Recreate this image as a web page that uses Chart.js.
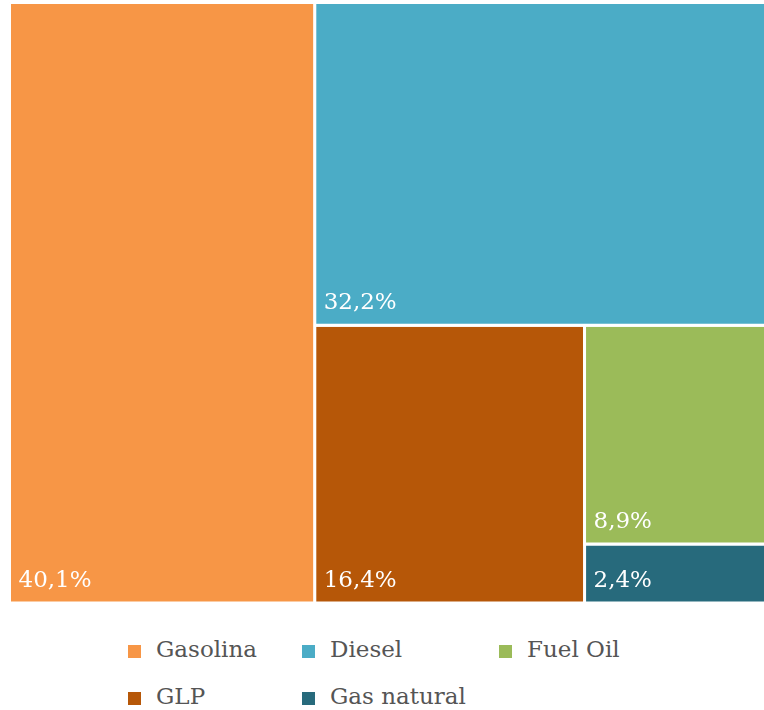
<!DOCTYPE html>
<html>
<head>
<meta charset="utf-8">
<script src="https://cdn.jsdelivr.net/npm/chart.js@4.4.1/dist/chart.umd.min.js"></script>
<style>
  body { margin: 0; background: #fff; width: 764px; height: 710px; overflow: hidden; position: relative; }
  #wrap { position: absolute; left: 0; top: 0; width: 771px; height: 610px; }
  #legend { position: absolute; left: 128px; top: 626px; font-family: "DejaVu Serif", serif; font-size: 23px; color: #555555; }
  .item { position: absolute; white-space: nowrap; height: 47px; line-height: 47px; }
  .box { display: inline-block; width: 13px; height: 13px; margin-right: 15px; vertical-align: -1px; }
</style>
</head>
<body>
<div id="wrap"><canvas id="treemap"></canvas></div>
<div id="legend"></div>
<script>
// categories in legend order
const categories = ['Gasolina', 'Diesel', 'Fuel Oil', 'GLP', 'Gas natural'];
const shares = [40.1, 32.2, 8.9, 16.4, 2.4];
const shareLabels = ['40,1%', '32,2%', '8,9%', '16,4%', '2,4%'];
const colors = ['#F79646', '#4BACC6', '#9BBB59', '#B65708', '#276A7C'];

// plot space in data units (keeps the pixel aspect of the area)
const AREA_W = 761, AREA_H = 600.5;

// squarified treemap layout, in data units
function squarify(values, w, h) {
  const total = values.reduce((a, b) => a + b, 0);
  const items = values.map((v, i) => ({ i, a: v / total * w * h }))
    .sort((p, q) => q.a - p.a);
  const rects = [];
  let x = 0, y = 0;

  function worst(row, side) {
    const s = row.reduce((t, r) => t + r.a, 0);
    const mx = Math.max(...row.map(r => r.a)), mn = Math.min(...row.map(r => r.a));
    return Math.max(side * side * mx / (s * s), (s * s) / (side * side * mn));
  }

  function place(row) {
    const s = row.reduce((t, r) => t + r.a, 0);
    if (w >= h) {
      const cw = s / h;
      let yy = y;
      row.forEach(r => { const rh = r.a / cw; rects[r.i] = { x0: x, y0: yy, x1: x + cw, y1: yy + rh }; yy += rh; });
      x += cw; w -= cw;
    } else {
      const rh = s / w;
      let xx = x;
      row.forEach(r => { const rw = r.a / rh; rects[r.i] = { x0: xx, y0: y, x1: xx + rw, y1: y + rh }; xx += rw; });
      y += rh; h -= rh;
    }
  }

  let row = [];
  items.forEach(it => {
    const side = Math.min(w, h);
    if (row.length === 0 || worst(row.concat([it]), side) <= worst(row, side)) {
      row.push(it);
    } else {
      place(row);
      row = [it];
    }
  });
  if (row.length) place(row);
  return rects;
}

const rects = squarify(shares, AREA_W, AREA_H);

const datasets = categories.map((name, i) => {
  const r = rects[i];
  return {
    label: name,
    data: [
      { x: r.x0, y: r.y0 }, { x: r.x1, y: r.y0 },
      { x: r.x1, y: r.y1 }, { x: r.x0, y: r.y1 }, { x: r.x0, y: r.y0 }
    ],
    showLine: true,
    fill: 'shape',
    backgroundColor: colors[i],
    borderColor: '#ffffff',
    borderWidth: 3,
    borderJoinStyle: 'miter',
    tension: 0,
    pointRadius: 0,
    pointHoverRadius: 0,
    clip: false
  };
});

// white share labels at the bottom left of each cell
const cellLabels = {
  id: 'cellLabels',
  afterDatasetsDraw(chart) {
    const { ctx, scales } = chart;
    ctx.save();
    ctx.fillStyle = '#ffffff';
    ctx.font = '23px "DejaVu Serif"';
    ctx.textAlign = 'left';
    ctx.textBaseline = 'alphabetic';
    categories.forEach((name, i) => {
      const r = rects[i];
      const px = scales.x.getPixelForValue(r.x0);
      const py = scales.y.getPixelForValue(r.y1);
      ctx.fillText(shareLabels[i], px + 9, py - 16);
    });
    ctx.restore();
  }
};

new Chart(document.getElementById('treemap'), {
  type: 'scatter',
  data: { datasets },
  options: {
    responsive: true,
    maintainAspectRatio: false,
    animation: false,
    layout: { padding: { left: 9.5, top: 2.5, right: 0.5, bottom: 7 } },
    scales: {
      x: { type: 'linear', min: 0, max: AREA_W, display: false },
      y: { type: 'linear', min: 0, max: AREA_H, reverse: true, display: false }
    },
    plugins: {
      legend: { display: false },
      tooltip: { enabled: false }
    }
  },
  plugins: [cellLabels]
});

// legend, in three columns
const legendEl = document.getElementById('legend');
const colLeft = [0, 174, 371];
categories.forEach((name, i) => {
  const d = document.createElement('div');
  d.className = 'item';
  d.style.left = colLeft[i % 3] + 'px';
  d.style.top = Math.floor(i / 3) * 47 + 'px';
  d.innerHTML = '<span class="box" style="background:' + colors[i] + '"></span>' + name;
  legendEl.appendChild(d);
});
</script>
</body>
</html>
